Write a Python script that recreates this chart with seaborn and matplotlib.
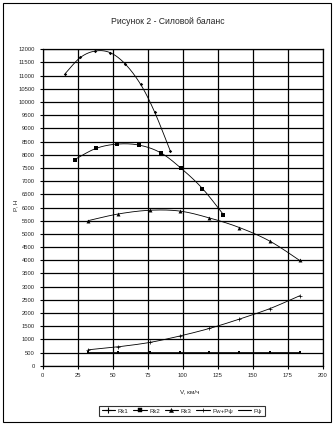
import numpy as np
import pandas as pd
import matplotlib
matplotlib.use("Agg")
import matplotlib.pyplot as plt
from matplotlib.lines import Line2D
from matplotlib.patches import Rectangle
import seaborn as sns

# Traction force per gear and resistance forces, N, against speed, km/h
v_rk1 = [16.1, 26.9, 37.6, 48.3, 59.0, 70.0, 80.0, 91.2]
rk1 = [11080, 11690, 11935, 11870, 11440, 10665, 9615, 8135]
v_rk2 = [22.8, 38.0, 53.3, 69.0, 84.3, 98.9, 114.1, 129.1]
rk2 = [7815, 8240, 8405, 8365, 8075, 7485, 6720, 5730]
v_rk3 = [32.4, 54.0, 76.4, 97.9, 119.0, 140.5, 162.4, 183.6]
rk3 = [5500, 5755, 5895, 5865, 5605, 5240, 4720, 3990]
pw_pf = [603, 718, 882, 1126, 1412, 1767, 2168, 2653]
pf = [525, 525, 525, 525, 525, 525, 525, 525]

labels = ["Rk1", "Rk2", "Rk3", "Pw+Pψ", "Pψ"]
title = "Рисунок 2 - Силовой баланс"
x_label = "V, км/ч"
y_label = "P, Н"
x_ticks = [0, 25, 50, 75, 100, 125, 150, 175, 200]
y_ticks = list(range(0, 12001, 500))

sns.set_theme(style="white")
plt.rcParams["font.family"] = ["Liberation Sans", "DejaVu Sans"]

W, H = 336, 425
fig = plt.figure(figsize=(W / 100, H / 100), dpi=100)
ax = fig.add_axes([42.7 / W, 1 - 365.7 / H, 280 / W, 316.4 / H])


def smooth(xs, ys, n=30):
    """Bezier smoothing through the points, like a spreadsheet's smoothed line."""
    p = np.column_stack([xs, ys]).astype(float)
    out = []
    for i in range(len(p) - 1):
        p0 = p[i - 1] if i > 0 else p[i]
        p1, p2 = p[i], p[i + 1]
        p3 = p[i + 2] if i + 2 < len(p) else p[i + 1]
        c1 = p1 + (p2 - p0) / 6
        c2 = p2 - (p3 - p1) / 6
        t = np.linspace(0, 1, n)[:, None]
        seg = ((1 - t) ** 3) * p1 + 3 * ((1 - t) ** 2) * t * c1 + 3 * (1 - t) * t ** 2 * c2 + t ** 3 * p2
        out.append(seg if i == 0 else seg[1:])
    s = np.vstack(out)
    return s[:, 0], s[:, 1]


series = [
    (v_rk1, rk1, "D", 3, 0.0),
    (v_rk2, rk2, "s", 6, 0.0),
    (v_rk3, rk3, "^", 8, 0.0),
    (v_rk3, pw_pf, "+", 8, 0.5),
    (v_rk3, pf, "s", 1.5, 0.0),
]

for (xs, ys, mk, ms, mew), lab in zip(series, labels):
    sx, sy = smooth(xs, ys)
    ax.plot(sx, sy, color="black", lw=0.6, zorder=3)
    df = pd.DataFrame({"V": xs, "P": ys})
    sns.scatterplot(data=df, x="V", y="P", ax=ax, marker=mk, s=ms,
                    color="black", edgecolor="black", linewidth=mew, zorder=4)

ax.set_xlim(0, 200)
ax.set_ylim(0, 12000)
ax.set_xticks(x_ticks)
ax.set_yticks(y_ticks)
ax.set_xticklabels([str(t) for t in x_ticks], fontsize=4.2)
ax.set_yticklabels([str(t) for t in y_ticks], fontsize=4.2)
ax.grid(True, color="black", lw=0.9)
ax.set_axisbelow(True)
for sp in ax.spines.values():
    sp.set_color("black")
    sp.set_linewidth(0.9)
ax.tick_params(axis="both", direction="out", length=2.5, width=0.8,
               color="black", pad=3, bottom=True, left=True)
ax.set_xlabel("")
ax.set_ylabel("")

fig.text(168 / W, 1 - 22 / H, title, ha="center", va="center", fontsize=6.2)
fig.text(190 / W, 1 - 392 / H, x_label, ha="center", va="center", fontsize=4.6)
fig.text(16 / W, 1 - 205 / H, y_label, ha="center", va="center", fontsize=4.6,
         rotation=90)

handles = [
    Line2D([], [], color="black", lw=0.8, marker="+", markersize=4, markeredgewidth=0.8, label=labels[0]),
    Line2D([], [], color="black", lw=0.8, marker="s", markersize=2.5, markeredgewidth=0.3, label=labels[1]),
    Line2D([], [], color="black", lw=0.8, marker="^", markersize=3, markeredgewidth=0.3, label=labels[2]),
    Line2D([], [], color="black", lw=0.8, marker="+", markersize=3, markeredgewidth=0.5, label=labels[3]),
    Line2D([], [], color="black", lw=0.8, label=labels[4]),
]
leg = fig.legend(handles=handles, loc="center", bbox_to_anchor=(182 / W, 1 - 411 / H),
                 ncol=5, fontsize=4.4, frameon=True, fancybox=False,
                 handlelength=2.2, handletextpad=0.4, columnspacing=0.8,
                 borderpad=0.4, edgecolor="black")
leg.get_frame().set_linewidth(0.8)

fig.patches.append(Rectangle((3 / W, 3 / H), 328 / W, 419 / H, transform=fig.transFigure,
                             fill=False, edgecolor="black", lw=0.8))

fig.savefig("out.png", dpi=100)
